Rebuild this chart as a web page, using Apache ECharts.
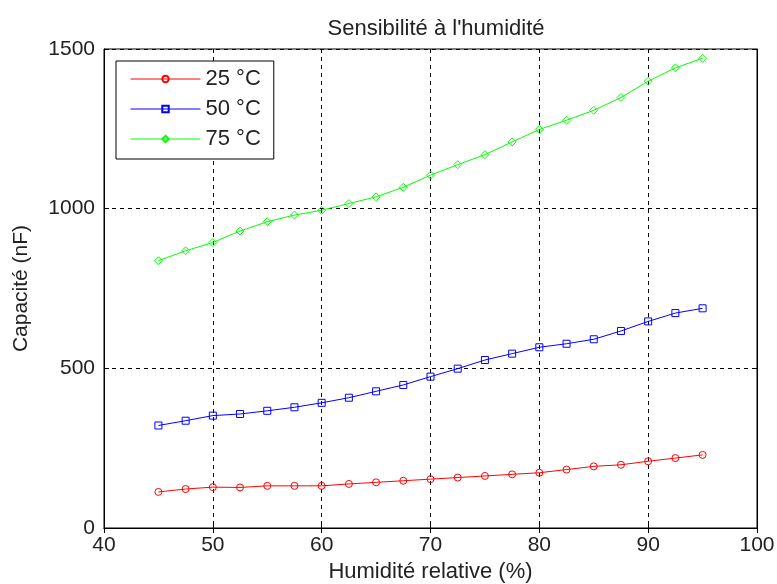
<!DOCTYPE html>
<html><head><meta charset="utf-8">
<script src="https://cdn.jsdelivr.net/npm/echarts@6/dist/echarts.min.js"></script>
<style>html,body{margin:0;padding:0;background:#fff}#c{width:777px;height:584px}</style>
</head><body><div id="c"></div>
<script>
const humidity = [45,47.5,50,52.5,55,57.5,60,62.5,65,67.5,70,72.5,75,77.5,80,82.5,85,87.5,90,92.5,95];
const cap25 = [113,122,128,127,132,132,132,138,143,148,153,158,163,168,173,183,193,198,209,219,229];
const cap50 = [321,336,352,357,367,378,392,408,428,448,474,499,526,546,566,577,591,617,647,673,688];
const cap75 = [837,868,894,930,959,980,995,1016,1037,1067,1105,1138,1169,1209,1248,1277,1308,1348,1399,1441,1471];
const seriesNames = ['25 °C','50 °C','75 °C'];
const xTicks = [40,50,60,70,80,90,100];
const yTicks = [0,500,1000,1500];

const font = 'Liberation Sans, Arial, sans-serif';
const pair = (ys) => humidity.map((x,i)=>[x, ys[i]]);
const chart = echarts.init(document.getElementById('c'));
const mk = (name, data, color, symbol, size) => ({
  name, type:'line', data: pair(data), symbol, symbolSize:size,
  showSymbol:true,
  lineStyle:{color, width:1}, itemStyle:{color:'rgba(0,0,0,0)', borderColor:color, borderWidth:1},
  emphasis:{disabled:true}, animation:false
});
chart.setOption({
  animation:false,
  title:{text:'Sensibilité à l\'humidité', left:431, top:13, textAlign:'center',
    textStyle:{fontFamily:font, fontSize:22, fontWeight:'normal', color:'#222'}},
  legend:{
    orient:'vertical', left:116, top:61, data:seriesNames,
    backgroundColor:'#fff', borderColor:'#000', borderWidth:1,
    padding:[7,13,9,14], itemGap:8, itemWidth:70, itemHeight:8,
    lineStyle:{width:1},
    textStyle:{fontFamily:font, fontSize:22, color:'#222'}
  },
  grid:{left:104, right:20, top:49, bottom:56, show:true, borderColor:'#000', borderWidth:1,
    containLabel:false, outerBoundsMode:'none'},
  xAxis:[{
    type:'value', min:40, max:100, interval:10,
    name:'Humidité relative (%)', nameLocation:'middle', nameGap:33,
    nameTextStyle:{fontFamily:font, fontSize:22, color:'#222'},
    axisLine:{show:true, lineStyle:{color:'#000'}},
    axisTick:{show:true, inside:true, length:5, lineStyle:{color:'#000'}},
    axisLabel:{fontFamily:font, fontSize:21, color:'#222', margin:7, formatter:(v)=>xTicks.includes(v)?String(v):''},
    splitLine:{show:true, lineStyle:{color:'#000', type:[4,4], width:1}}
  },{
    type:'value', position:'top', min:40, max:100, interval:10,
    axisLine:{show:true, lineStyle:{color:'#000'}},
    axisTick:{show:true, inside:true, length:5, lineStyle:{color:'#000'}},
    axisLabel:{show:false}, splitLine:{show:false}
  }],
  yAxis:[{
    type:'value', min:0, max:1500, interval:500,
    name:'Capacité (nF)', nameLocation:'middle', nameGap:72, nameRotate:90,
    nameTextStyle:{fontFamily:font, fontSize:21, color:'#222'},
    axisLine:{show:true, lineStyle:{color:'#000'}},
    axisTick:{show:true, inside:true, length:5, lineStyle:{color:'#000'}},
    axisLabel:{fontFamily:font, fontSize:21, color:'#222', margin:9, formatter:(v)=>yTicks.includes(v)?String(v):''},
    splitLine:{show:true, lineStyle:{color:'#000', type:[4,4], width:1}}
  },{
    type:'value', position:'right', min:0, max:1500, interval:500,
    axisLine:{show:true, lineStyle:{color:'#000'}},
    axisTick:{show:true, inside:true, length:5, lineStyle:{color:'#000'}},
    axisLabel:{show:false}, splitLine:{show:false}
  }],
  series:[
    mk(seriesNames[0], cap25, '#ff0000', 'circle', 7),
    mk(seriesNames[1], cap50, '#0000ff', 'rect', 7),
    mk(seriesNames[2], cap75, '#00ff00', 'diamond', 8)
  ]
});
</script></body></html>
